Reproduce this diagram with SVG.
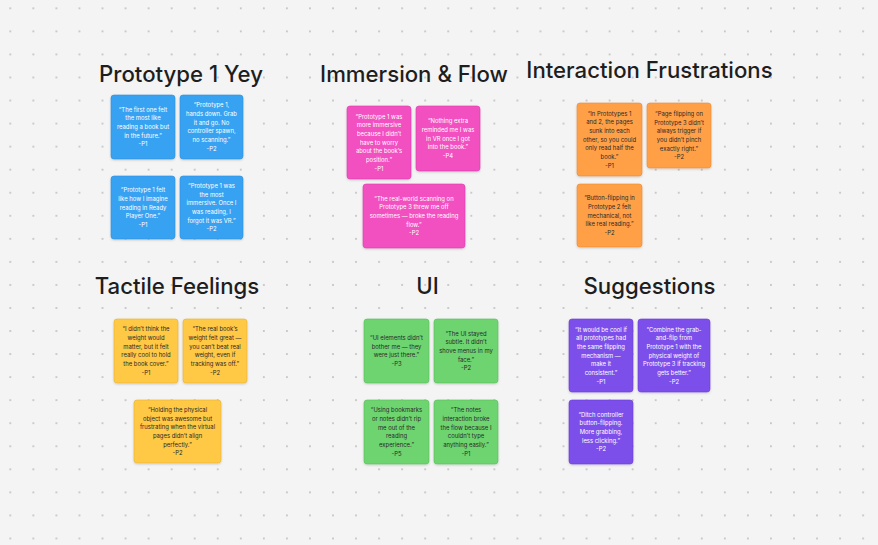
<svg xmlns="http://www.w3.org/2000/svg" width="878" height="545" viewBox="0 0 878 545">
<defs>
<pattern id="dots" x="-1.2" y="-3.2" width="23.05" height="23.05" patternUnits="userSpaceOnUse">
<circle cx="11.5" cy="11.5" r="1" fill="#bdbdbd"/>
</pattern>
<filter id="sh" x="-10%" y="-10%" width="120%" height="125%">
<feDropShadow dx="0" dy="1" stdDeviation="0.8" flood-color="#000" flood-opacity="0.18"/>
</filter>
</defs>
<style>
.title{font-family:Inter,"Noto Sans","Liberation Sans",sans-serif;font-size:22.2px;font-weight:500;fill:#1e1e1e;text-anchor:middle}
.note rect{filter:url(#sh)}
.t{font-family:Inter,"Noto Sans","Liberation Sans",sans-serif;font-size:5.9px;text-anchor:middle}
.w{fill:#ffffff}
.d{fill:#2a2a2a}
.blue{fill:#38a2f2;stroke:#2c8fdc;stroke-width:0.6}
.pink{fill:#f24fc0;stroke:#dc3eaa;stroke-width:0.6}
.orange{fill:#ffa047;stroke:#ea8a35;stroke-width:0.6}
.yellow{fill:#ffc845;stroke:#e8b232;stroke-width:0.6}
.green{fill:#6dd470;stroke:#58bd5c;stroke-width:0.6}
.purple{fill:#7d50ea;stroke:#6a3ed6;stroke-width:0.6}
</style>
<rect width="878" height="545" fill="#f4f4f4"/>
<rect width="878" height="545" fill="url(#dots)"/>

<g id="titles">
<text class="title" x="181" y="81.7">Prototype 1 Yey</text>
<text class="title" x="414" y="81.7">Immersion &amp; Flow</text>
<text class="title" x="649.5" y="78">Interaction Frustrations</text>
<text class="title" x="177" y="294">Tactile Feelings</text>
<text class="title" x="427.5" y="294">UI</text>
<text class="title" x="649.5" y="294">Suggestions</text>
</g>

<g id="connectors"></g>

<!-- Prototype 1 Yey -->
<g id="p1-n1" class="note"><rect class="blue" x="111" y="95" width="64" height="64" rx="3"/>
<text class="t w" y="111.7"><tspan x="143">“The first one felt</tspan><tspan x="143" dy="8.65">the most like</tspan><tspan x="143" dy="8.65">reading a book but</tspan><tspan x="143" dy="8.65">in the future.”</tspan><tspan x="143" dy="8.65">-P1</tspan></text></g>
<g id="p1-n2" class="note"><rect class="blue" x="180" y="95" width="63" height="64" rx="3"/>
<text class="t w" y="107.4"><tspan x="211.5">“Prototype 1,</tspan><tspan x="211.5" dy="8.65">hands down. Grab</tspan><tspan x="211.5" dy="8.65">it and go. No</tspan><tspan x="211.5" dy="8.65">controller spawn,</tspan><tspan x="211.5" dy="8.65">no scanning.”</tspan><tspan x="211.5" dy="8.65">-P2</tspan></text></g>
<g id="p1-n3" class="note"><rect class="blue" x="111" y="176" width="64" height="63" rx="3"/>
<text class="t w" y="192.2"><tspan x="143">“Prototype 1 felt</tspan><tspan x="143" dy="8.65">like how I imagine</tspan><tspan x="143" dy="8.65">reading in Ready</tspan><tspan x="143" dy="8.65">Player One.”</tspan><tspan x="143" dy="8.65">-P1</tspan></text></g>
<g id="p1-n4" class="note"><rect class="blue" x="180" y="176" width="63" height="63" rx="3"/>
<text class="t w" y="187.9"><tspan x="211.5">“Prototype 1 was</tspan><tspan x="211.5" dy="8.65">the most</tspan><tspan x="211.5" dy="8.65">immersive. Once I</tspan><tspan x="211.5" dy="8.65">was reading, I</tspan><tspan x="211.5" dy="8.65">forgot it was VR.”</tspan><tspan x="211.5" dy="8.65">-P2</tspan></text></g>

<!-- Immersion & Flow -->
<g id="if-n1" class="note"><rect class="pink" x="347" y="106" width="64" height="73" rx="3"/>
<text class="t w" y="118.6"><tspan x="379">“Prototype 1 was</tspan><tspan x="379" dy="8.65">more immersive</tspan><tspan x="379" dy="8.65">because I didn’t</tspan><tspan x="379" dy="8.65">have to worry</tspan><tspan x="379" dy="8.65">about the book’s</tspan><tspan x="379" dy="8.65">position.”</tspan><tspan x="379" dy="8.65">-P1</tspan></text></g>
<g id="if-n2" class="note"><rect class="pink" x="416" y="106" width="64" height="65" rx="3"/>
<text class="t w" y="123.2"><tspan x="448">“Nothing extra</tspan><tspan x="448" dy="8.65">reminded me I was</tspan><tspan x="448" dy="8.65">in VR once I got</tspan><tspan x="448" dy="8.65">into the book.”</tspan><tspan x="448" dy="8.65">-P4</tspan></text></g>
<g id="if-n3" class="note"><rect class="pink" x="363" y="184" width="102" height="64" rx="3"/>
<text class="t w" y="200.7"><tspan x="414">“The real-world scanning on</tspan><tspan x="414" dy="8.65">Prototype 3 threw me off</tspan><tspan x="414" dy="8.65">sometimes — broke the reading</tspan><tspan x="414" dy="8.65">flow.”</tspan><tspan x="414" dy="8.65">-P2</tspan></text></g>

<!-- Interaction Frustrations -->
<g id="fr-n1" class="note"><rect class="orange" x="577" y="103" width="65" height="73" rx="3"/>
<text class="t d" y="115.6"><tspan x="609.5">“In Prototypes 1</tspan><tspan x="609.5" dy="8.65">and 2, the pages</tspan><tspan x="609.5" dy="8.65">sunk into each</tspan><tspan x="609.5" dy="8.65">other, so you could</tspan><tspan x="609.5" dy="8.65">only read half the</tspan><tspan x="609.5" dy="8.65">book.”</tspan><tspan x="609.5" dy="8.65">-P1</tspan></text></g>
<g id="fr-n2" class="note"><rect class="orange" x="647" y="103" width="64" height="65" rx="3"/>
<text class="t d" y="115.9"><tspan x="679">“Page flipping on</tspan><tspan x="679" dy="8.65">Prototype 3 didn’t</tspan><tspan x="679" dy="8.65">always trigger if</tspan><tspan x="679" dy="8.65">you didn’t pinch</tspan><tspan x="679" dy="8.65">exactly right.”</tspan><tspan x="679" dy="8.65">-P2</tspan></text></g>
<g id="fr-n3" class="note"><rect class="orange" x="577" y="184" width="65" height="63" rx="3"/>
<text class="t d" y="200.2"><tspan x="609.5">“Button-flipping in</tspan><tspan x="609.5" dy="8.65">Prototype 2 felt</tspan><tspan x="609.5" dy="8.65">mechanical, not</tspan><tspan x="609.5" dy="8.65">like real reading.”</tspan><tspan x="609.5" dy="8.65">-P2</tspan></text></g>

<!-- Tactile Feelings -->
<g id="tf-n1" class="note"><rect class="yellow" x="114" y="319" width="64" height="64" rx="3"/>
<text class="t d" y="331.4"><tspan x="146">“I didn’t think the</tspan><tspan x="146" dy="8.65">weight would</tspan><tspan x="146" dy="8.65">matter, but it felt</tspan><tspan x="146" dy="8.65">really cool to hold</tspan><tspan x="146" dy="8.65">the book cover.”</tspan><tspan x="146" dy="8.65">-P1</tspan></text></g>
<g id="tf-n2" class="note"><rect class="yellow" x="183" y="319" width="64" height="64" rx="3"/>
<text class="t d" y="331.4"><tspan x="215">“The real book’s</tspan><tspan x="215" dy="8.65">weight felt great —</tspan><tspan x="215" dy="8.65">you can’t beat real</tspan><tspan x="215" dy="8.65">weight, even if</tspan><tspan x="215" dy="8.65">tracking was off.”</tspan><tspan x="215" dy="8.65">-P2</tspan></text></g>
<g id="tf-n3" class="note"><rect class="yellow" x="134" y="400" width="87" height="63" rx="3"/>
<text class="t d" y="411.9"><tspan x="177.5">“Holding the physical</tspan><tspan x="177.5" dy="8.65">object was awesome but</tspan><tspan x="177.5" dy="8.65">frustrating when the virtual</tspan><tspan x="177.5" dy="8.65">pages didn’t align</tspan><tspan x="177.5" dy="8.65">perfectly.”</tspan><tspan x="177.5" dy="8.65">-P2</tspan></text></g>

<!-- UI -->
<g id="ui-n1" class="note"><rect class="green" x="364" y="319" width="65" height="64" rx="3"/>
<text class="t d" y="340"><tspan x="396.5">“UI elements didn’t</tspan><tspan x="396.5" dy="8.65">bother me — they</tspan><tspan x="396.5" dy="8.65">were just there.”</tspan><tspan x="396.5" dy="8.65">-P3</tspan></text></g>
<g id="ui-n2" class="note"><rect class="green" x="434" y="319" width="64" height="64" rx="3"/>
<text class="t d" y="335.7"><tspan x="466">“The UI stayed</tspan><tspan x="466" dy="8.65">subtle. It didn’t</tspan><tspan x="466" dy="8.65">shove menus in my</tspan><tspan x="466" dy="8.65">face.”</tspan><tspan x="466" dy="8.65">-P2</tspan></text></g>
<g id="ui-n3" class="note"><rect class="green" x="364" y="400" width="65" height="64" rx="3"/>
<text class="t d" y="412.4"><tspan x="396.5">“Using bookmarks</tspan><tspan x="396.5" dy="8.65">or notes didn’t rip</tspan><tspan x="396.5" dy="8.65">me out of the</tspan><tspan x="396.5" dy="8.65">reading</tspan><tspan x="396.5" dy="8.65">experience.”</tspan><tspan x="396.5" dy="8.65">-P5</tspan></text></g>
<g id="ui-n4" class="note"><rect class="green" x="434" y="400" width="64" height="64" rx="3"/>
<text class="t d" y="412.4"><tspan x="466">“The notes</tspan><tspan x="466" dy="8.65">interaction broke</tspan><tspan x="466" dy="8.65">the flow because I</tspan><tspan x="466" dy="8.65">couldn’t type</tspan><tspan x="466" dy="8.65">anything easily.”</tspan><tspan x="466" dy="8.65">-P1</tspan></text></g>

<!-- Suggestions -->
<g id="sg-n1" class="note"><rect class="purple" x="569" y="319" width="64" height="73" rx="3"/>
<text class="t w" y="331.6"><tspan x="601">“It would be cool if</tspan><tspan x="601" dy="8.65">all prototypes had</tspan><tspan x="601" dy="8.65">the same flipping</tspan><tspan x="601" dy="8.65">mechanism —</tspan><tspan x="601" dy="8.65">make it</tspan><tspan x="601" dy="8.65">consistent.”</tspan><tspan x="601" dy="8.65">-P1</tspan></text></g>
<g id="sg-n2" class="note"><rect class="purple" x="638" y="319" width="72" height="73" rx="3"/>
<text class="t w" y="331.6"><tspan x="674">“Combine the grab-</tspan><tspan x="674" dy="8.65">and-flip from</tspan><tspan x="674" dy="8.65">Prototype 1 with the</tspan><tspan x="674" dy="8.65">physical weight of</tspan><tspan x="674" dy="8.65">Prototype 3 if tracking</tspan><tspan x="674" dy="8.65">gets better.”</tspan><tspan x="674" dy="8.65">-P2</tspan></text></g>
<g id="sg-n3" class="note"><rect class="purple" x="569" y="400" width="64" height="64" rx="3"/>
<text class="t w" y="416.7"><tspan x="601">“Ditch controller</tspan><tspan x="601" dy="8.65">button-flipping.</tspan><tspan x="601" dy="8.65">More grabbing,</tspan><tspan x="601" dy="8.65">less clicking.”</tspan><tspan x="601" dy="8.65">-P2</tspan></text></g>
</svg>
